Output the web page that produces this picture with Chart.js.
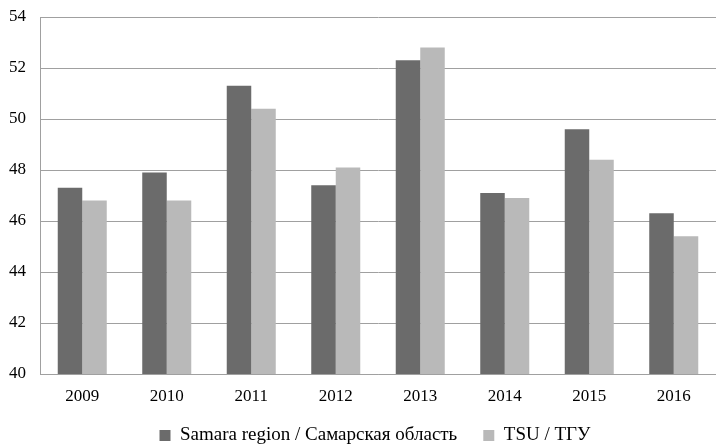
<!DOCTYPE html>
<html>
<head>
<meta charset="utf-8">
<script src="https://cdn.jsdelivr.net/npm/chart.js@4"></script>
<style>
    html, body { margin: 0; padding: 0; background: #fff; }
    #wrap { width: 716px; height: 444px; }
</style>
</head>
<body>
<div id="wrap"><canvas id="barChart"></canvas></div>
<script>
// Years on the x axis
const years = ['2009', '2010', '2011', '2012', '2013', '2014', '2015', '2016'];

// Series values
const samaraRegion = [47.3, 47.9, 51.3, 47.4, 52.3, 47.1, 49.6, 46.3];
const tsu = [46.8, 46.8, 50.4, 48.1, 52.8, 46.9, 48.4, 45.4];

// Y axis range
const yMin = 40;
const yMax = 54;
const yStep = 2;

const serif = "'Liberation Serif', 'Times New Roman', serif";

// Legend keeps wide gaps between items but takes a short strip at the bottom,
// then gets nudged so its row sits just under the year labels
const legendFit = {
    id: 'legendFit',
    beforeUpdate(chart) {
        const legend = chart.legend;
        if (!legend || legend._fixedFit) return;
        const fit = legend.fit;
        legend.fit = function () {
            fit.call(this);
            this.height = 36;
        };
        legend._fixedFit = true;
    },
    afterLayout(chart) {
        const legend = chart.legend;
        if (!legend) return;
        legend.top = 400;
        legend.bottom = 444;
        legend.left += 17;
        legend.right += 17;
    }
};

const ctx = document.getElementById('barChart').getContext('2d');

new Chart(ctx, {
    type: 'bar',
    data: {
        labels: years,
        datasets: [{
            label: 'Samara region / Самарская область',
            data: samaraRegion,
            backgroundColor: '#6b6b6b',
            borderWidth: 0
        }, {
            label: 'TSU / ТГУ',
            data: tsu,
            backgroundColor: '#b9b9b9',
            borderWidth: 0
        }]
    },
    options: {
        responsive: true,
        maintainAspectRatio: false,
        animation: false,
        layout: {
            padding: { top: 17, right: 0, bottom: 0, left: 0 }
        },
        datasets: {
            bar: {
                categoryPercentage: 0.58,
                barPercentage: 1.0
            }
        },
        plugins: {
            tooltip: { enabled: false },
            legend: {
                position: 'bottom',
                labels: {
                    boxWidth: 11,
                    boxHeight: 11,
                    padding: 26,
                    color: '#000',
                    font: { family: serif, size: 19 }
                }
            }
        },
        scales: {
            x: {
                grid: { display: false },
                border: { display: true, color: '#a0a0a0', width: 1 },
                ticks: {
                    color: '#000',
                    padding: 4,
                    maxRotation: 0,
                    font: { family: serif, size: 17 }
                },
                afterFit: (scale) => { scale.height = 34; }
            },
            y: {
                min: yMin,
                max: yMax,
                grid: {
                    color: '#a0a0a0',
                    lineWidth: 1,
                    drawTicks: false
                },
                border: { display: true, color: '#a0a0a0', width: 1 },
                ticks: {
                    stepSize: yStep,
                    color: '#000',
                    padding: 14,
                    font: { family: serif, size: 17 }
                },
                afterFit: (scale) => {
                    scale.width = 40;
                    scale.paddingTop = 0;
                    scale.paddingBottom = 0;
                }
            }
        }
    },
    plugins: [legendFit]
});
</script>
</body>
</html>
